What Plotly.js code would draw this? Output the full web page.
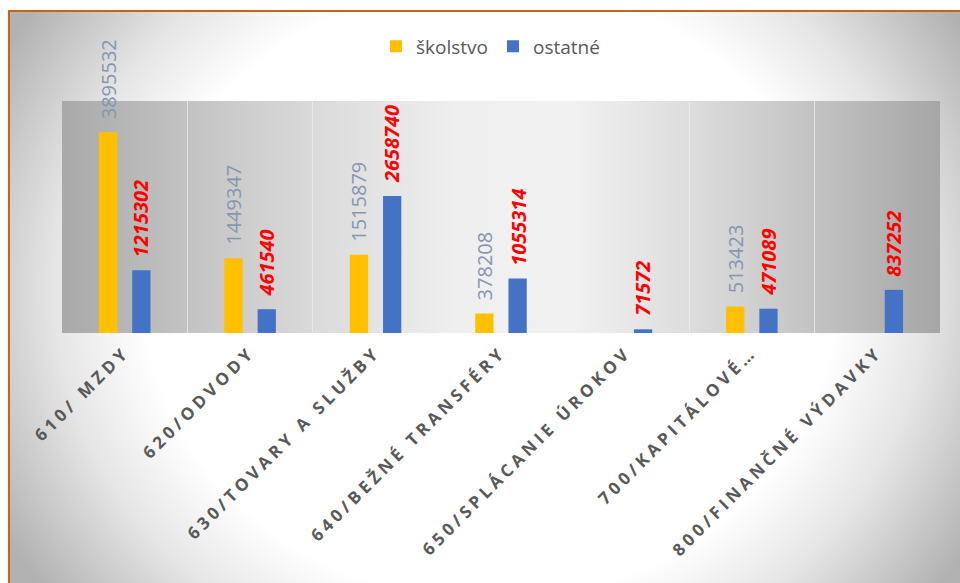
<!DOCTYPE html>
<html>
<head>
<meta charset="utf-8">
<script src="https://cdn.plot.ly/plotly-3.0.1.min.js"></script>
<style>
  html, body { margin: 0; padding: 0; width: 960px; height: 583px; overflow: hidden; background: #ffffff; }
  #bg {
    position: absolute; left: 8px; top: 10px; width: 960px; height: 583px;
    border-top: 2px solid #C8621C; border-left: 2px solid #C8621C;
    background: radial-gradient(ellipse 58% 85% at 50% 48%, #ffffff 62%, #e6e6e6 78%, #b2b2b2 100%);
  }
  #chart { position: absolute; left: 0; top: 0; width: 960px; height: 583px; }
  .xtick text { letter-spacing: 4px; }
</style>
</head>
<body>
<div id="bg"></div>
<div id="chart"></div>
<script>
// ---- data ----
const categories = [
  "610/ MZDY",
  "620/ODVODY",
  "630/TOVARY A SLUŽBY",
  "640/BEŽNÉ TRANSFÉRY",
  "650/SPLÁCANIE ÚROKOV",
  "700/KAPITÁLOVÉ…",
  "800/FINANČNÉ VÝDAVKY"
];
const seriesNames = ["školstvo", "ostatné"];
const skolstvo = [3895532, 1449347, 1515879, 378208, null, 513423, null];
const ostatne  = [1215302, 461540, 2658740, 1055314, 71572, 471089, 837252];

// ---- style ----
const W = 960, H = 583;
const margin = {l: 62, r: 20, t: 101, b: 250};
const bargap = 0.47, bargroupgap = 0.45;
const plotW = W - margin.l - margin.r;
const slotOffset = plotW / categories.length * (1 - bargap) / 4;

const tSkol = {
  type: 'bar', name: seriesNames[0], x: categories, y: skolstvo,
  marker: {color: '#FFC000'}, hoverinfo: 'none'
};
const tOst = {
  type: 'bar', name: seriesNames[1], x: categories, y: ostatne,
  marker: {color: '#4472C4'}, hoverinfo: 'none'
};

const annotations = [];
categories.forEach((c, i) => {
  if (skolstvo[i] != null) {
    annotations.push({
      x: c, y: skolstvo[i], xref: 'x', yref: 'y', text: String(skolstvo[i]),
      showarrow: false, textangle: -90, xanchor: 'center', yanchor: 'bottom',
      xshift: -slotOffset, yshift: 11,
      font: {family: 'Open Sans', size: 20, color: '#8497B0'}
    });
  }
  if (ostatne[i] != null) {
    annotations.push({
      x: c, y: ostatne[i], xref: 'x', yref: 'y', text: '<b><i>' + ostatne[i] + '</i></b>',
      showarrow: false, textangle: -90, xanchor: 'center', yanchor: 'bottom',
      xshift: slotOffset, yshift: 11,
      font: {family: 'Open Sans', size: 20, color: '#FF0000'}
    });
  }
});

const layout = {
  width: W, height: H,
  margin: margin,
  paper_bgcolor: 'rgba(0,0,0,0)',
  plot_bgcolor: '#cccccc',
  barmode: 'group',
  bargap: bargap,
  bargroupgap: bargroupgap,
  showlegend: true,
  legend: {
    orientation: 'h', x: 0.488, xanchor: 'center', y: 1.235, yanchor: 'middle',
    font: {family: 'Open Sans', size: 19, color: '#595959'},
    bgcolor: 'rgba(0,0,0,0)', traceorder: 'normal'
  },
  xaxis: {
    type: 'category',
    tickangle: -45,
    tickson: 'boundaries',
    ticks: '',
    ticklabelstandoff: 5,
    showgrid: true,
    gridcolor: 'rgba(238,238,238,0.75)',
    gridwidth: 1,
    showline: false,
    zeroline: false,
    tickfont: {family: 'Open Sans', size: 17, color: '#595959', weight: 'bold'},
    automargin: false
  },
  yaxis: {
    range: [0, 4500000],
    showgrid: false, zeroline: false, showticklabels: false, ticks: '', showline: false,
    fixedrange: true
  },
  annotations: annotations,
  font: {family: 'Open Sans'}
};

Plotly.newPlot('chart', [tSkol, tOst], layout, {displayModeBar: false, staticPlot: true}).then(gd => {
  const svg = gd.querySelector('svg.main-svg');
  const NS = 'http://www.w3.org/2000/svg';
  const defs = document.createElementNS(NS, 'defs');
  const grad = document.createElementNS(NS, 'linearGradient');
  grad.setAttribute('id', 'plotAreaGrad');
  grad.setAttribute('x1', '0'); grad.setAttribute('y1', '0');
  grad.setAttribute('x2', '1'); grad.setAttribute('y2', '0');
  [[0, '#a9a9a9'], [0.15, '#c4c4c4'], [0.3, '#dcdcdc'], [0.45, '#efefef'],
   [0.58, '#f1f1f1'], [0.72, '#dcdcdc'], [0.86, '#c2c2c2'], [1, '#a6a6a6']].forEach(([o, c]) => {
    const s = document.createElementNS(NS, 'stop');
    s.setAttribute('offset', o); s.setAttribute('stop-color', c);
    grad.appendChild(s);
  });
  defs.appendChild(grad);
  svg.insertBefore(defs, svg.firstChild);
  const bg = gd.querySelector('.bglayer rect.bg');
  if (bg) bg.style.fill = 'url(#plotAreaGrad)';
});
</script>
</body>
</html>
